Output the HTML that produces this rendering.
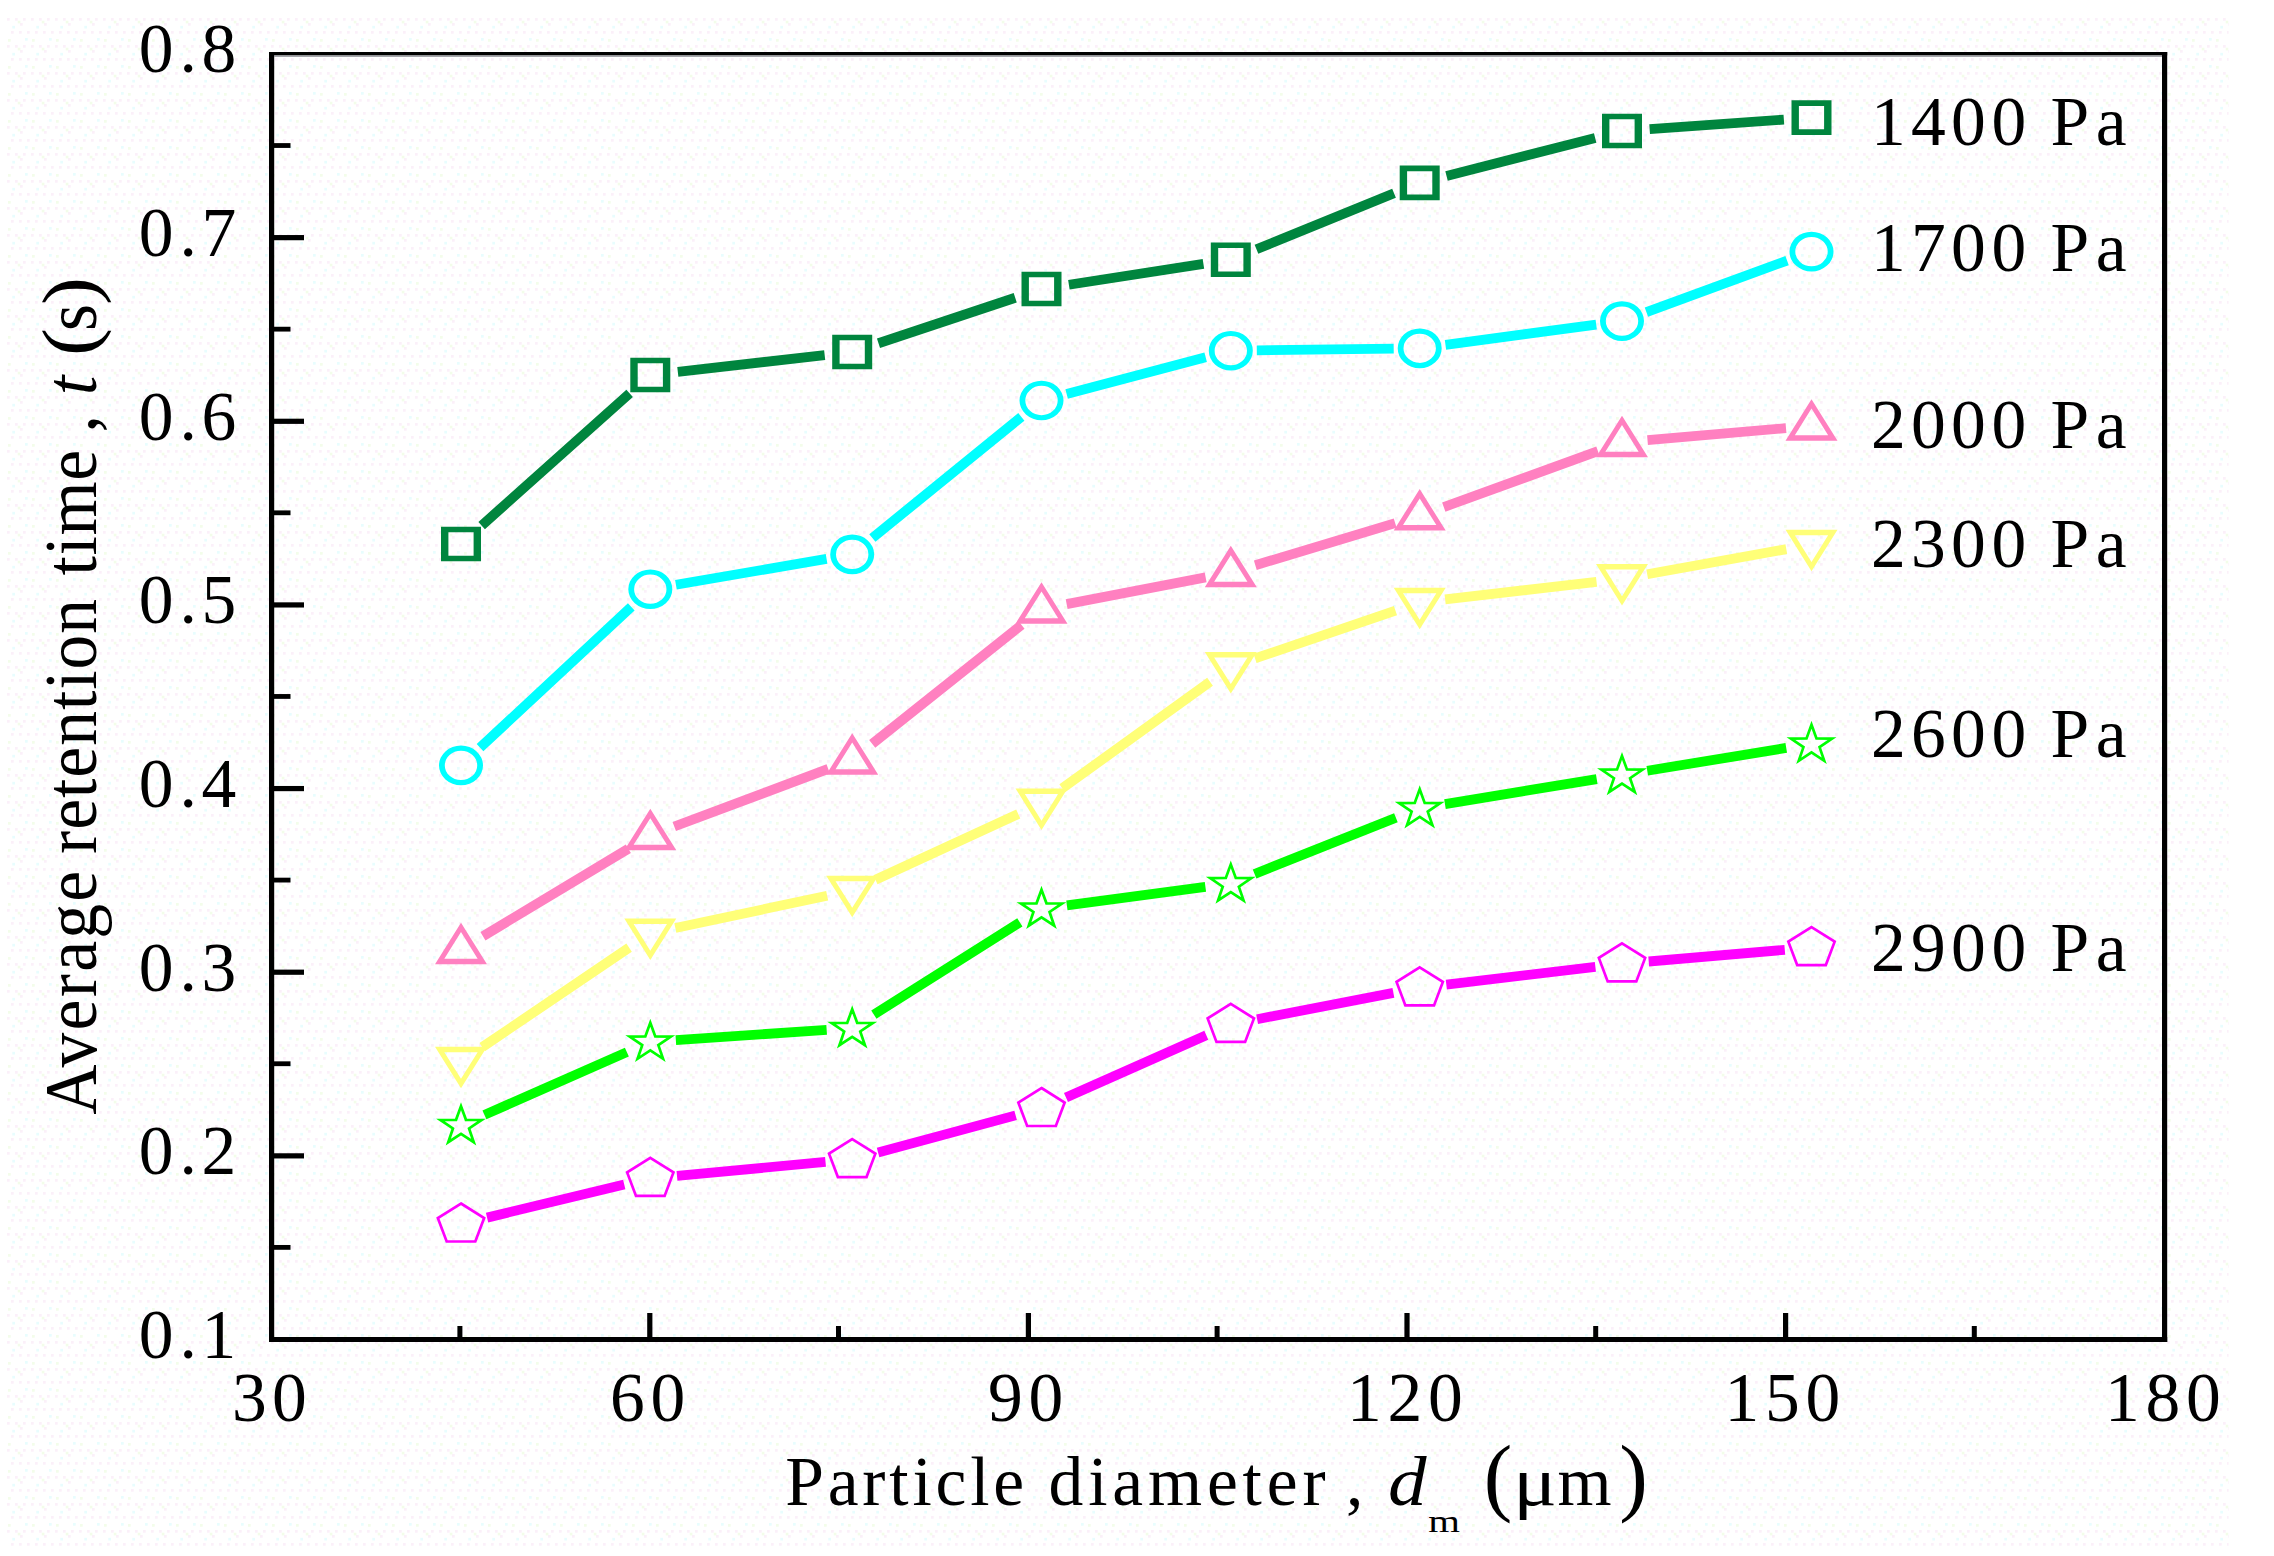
<!DOCTYPE html>
<html lang="en">
<head>
<meta charset="utf-8">
<title>Average retention time vs particle diameter</title>
<style>html,body{margin:0;padding:0;background:#ffffff;}svg{display:block;}</style>
</head>
<body>
<svg width="2274" height="1556" viewBox="0 0 2274 1556" role="img" aria-label="Average retention time versus particle diameter">
<rect x="0" y="0" width="2274" height="1556" fill="#ffffff"/>
<defs><pattern id="dots" x="6" y="17" width="24" height="27" patternUnits="userSpaceOnUse"><g fill="#fbf0f9"><rect x="1" y="1" width="2.7" height="2.7"/><rect x="9" y="1" width="2.7" height="2.7"/><rect x="17" y="1" width="2.7" height="2.7"/><rect x="5" y="14" width="2.7" height="2.7"/><rect x="13" y="14" width="2.7" height="2.7"/><rect x="21" y="14" width="2.7" height="2.7"/><rect x="14" y="6" width="2.7" height="2.7"/></g><g fill="#e8fdfe"><rect x="6.3" y="8.8" width="2.7" height="2.7"/><rect x="19" y="21" width="2.7" height="2.7"/></g><g fill="#f3fdea"><rect x="11.7" y="3.7" width="2.7" height="2.7"/><rect x="2" y="22" width="2.7" height="2.7"/></g></pattern></defs>
<rect x="6" y="17" width="2222.6" height="1532" fill="url(#dots)"/>
<g fill="#000000">
<rect x="269" y="52" width="5.2" height="1290"/>
<rect x="2162" y="52" width="5.2" height="1290"/>
<rect x="269" y="52" width="1898.2" height="3.4"/>
<rect x="269" y="1337" width="1898.2" height="5"/>
<rect x="274" y="55.4" width="1888" height="1.6" fill="#8f8f96" opacity="0.8"/>
<rect x="274" y="235.04" width="30" height="5.2"/>
<rect x="274" y="418.69" width="30" height="5.2"/>
<rect x="274" y="602.33" width="30" height="5.2"/>
<rect x="274" y="785.97" width="30" height="5.2"/>
<rect x="274" y="969.61" width="30" height="5.2"/>
<rect x="274" y="1153.26" width="30" height="5.2"/>
<rect x="274" y="143.12" width="16.5" height="4.8"/>
<rect x="274" y="326.76" width="16.5" height="4.8"/>
<rect x="274" y="510.41" width="16.5" height="4.8"/>
<rect x="274" y="694.05" width="16.5" height="4.8"/>
<rect x="274" y="877.69" width="16.5" height="4.8"/>
<rect x="274" y="1061.34" width="16.5" height="4.8"/>
<rect x="274" y="1244.98" width="16.5" height="4.8"/>
<rect x="647.2" y="1313" width="5.2" height="25"/>
<rect x="1025.8" y="1313" width="5.2" height="25"/>
<rect x="1404.4" y="1313" width="5.2" height="25"/>
<rect x="1783" y="1313" width="5.2" height="25"/>
<rect x="457.4" y="1326" width="5" height="12"/>
<rect x="836" y="1326" width="5" height="12"/>
<rect x="1214.6" y="1326" width="5" height="12"/>
<rect x="1593.2" y="1326" width="5" height="12"/>
<rect x="1971.8" y="1326" width="5" height="12"/>
</g>
<path d="M481.66 525.55L629.64 393.45M677.82 371.86L824.68 355.14M878.48 343.25L1015.22 297.75M1068.87 284.76L1203.43 263.94M1256.46 249.27L1394.04 193.33M1446.53 176.02L1595.17 137.88M1649.63 129.05L1783.87 119.55" fill="none" stroke="#00853e" stroke-width="9.8"/>
<path d="M480.03 747.69L631.27 606.91M675.92 584.78L826.58 558.82M872.37 538L1021.33 416.9M1066.64 393.89L1205.66 357.31M1256.8 350.37L1393.7 348.63M1445.47 344.84L1596.23 324.56M1646.41 312.15L1787.09 260.55" fill="none" stroke="#00ffff" stroke-width="9.8"/>
<path d="M482.94 936.2L628.36 848.7M674.27 826.52L828.23 768.88M872.21 743.94L1021.49 624.86M1066.64 604.08L1205.66 577.42M1255.32 565.23L1395.18 523.17M1443.76 507.07L1597.94 451.13M1647.5 440.18L1786 428.12" fill="none" stroke="#ff80c0" stroke-width="9.8"/>
<path d="M482.2 1047.15L629.1 947.65M675.34 927.98L827.16 895.72M875.46 879.7L1018.24 814M1062.26 788.32L1210.04 681.68M1255.03 658.45L1395.47 610.65M1445.13 599.43L1596.57 581.77M1647.19 574.25L1786.31 549.15" fill="none" stroke="#ffff78" stroke-width="9.8"/>
<path d="M484.43 1114.88L626.87 1052.12M675.84 1040.08L826.66 1029.92M873.85 1014.53L1019.85 922.37M1066.87 905.31L1205.43 886.79M1254.59 873.94L1395.91 817.76M1444.96 804.13L1596.74 779.07M1647.26 770.75L1786.24 747.95" fill="none" stroke="#00ff00" stroke-width="9.8"/>
<path d="M487.05 1217.62L624.25 1184.58M676.98 1175.82L825.52 1161.98M878.07 1152.52L1015.63 1115.38M1065.99 1097.52L1206.31 1035.18M1257.11 1019.22L1393.39 992.88M1446.31 984.64L1595.39 966.96M1648.7 961.5L1784.8 949.8" fill="none" stroke="#ff00ff" stroke-width="9.8"/>
<g>
<path d="M441 526.7L481 526.7L481 561.3L441 561.3ZM448.4 532.3L473.6 532.3L473.6 555.7L448.4 555.7Z" fill="#00853e" fill-rule="evenodd"/>
<path d="M630.3 357.7L670.3 357.7L670.3 392.3L630.3 392.3ZM637.7 363.3L662.9 363.3L662.9 386.7L637.7 386.7Z" fill="#00853e" fill-rule="evenodd"/>
<path d="M832.2 334.7L872.2 334.7L872.2 369.3L832.2 369.3ZM839.6 340.3L864.8 340.3L864.8 363.7L839.6 363.7Z" fill="#00853e" fill-rule="evenodd"/>
<path d="M1021.5 271.7L1061.5 271.7L1061.5 306.3L1021.5 306.3ZM1028.9 277.3L1054.1 277.3L1054.1 300.7L1028.9 300.7Z" fill="#00853e" fill-rule="evenodd"/>
<path d="M1210.8 242.4L1250.8 242.4L1250.8 277L1210.8 277ZM1218.2 248L1243.4 248L1243.4 271.4L1218.2 271.4Z" fill="#00853e" fill-rule="evenodd"/>
<path d="M1399.7 165.6L1439.7 165.6L1439.7 200.2L1399.7 200.2ZM1407.1 171.2L1432.3 171.2L1432.3 194.6L1407.1 194.6Z" fill="#00853e" fill-rule="evenodd"/>
<path d="M1602 113.7L1642 113.7L1642 148.3L1602 148.3ZM1609.4 119.3L1634.6 119.3L1634.6 142.7L1609.4 142.7Z" fill="#00853e" fill-rule="evenodd"/>
<path d="M1791.5 100.3L1831.5 100.3L1831.5 134.9L1791.5 134.9ZM1798.9 105.9L1824.1 105.9L1824.1 129.3L1798.9 129.3Z" fill="#00853e" fill-rule="evenodd"/>
</g>
<g>
<path d="M439 765.4A22 19.8 0 1 0 483 765.4A22 19.8 0 1 0 439 765.4ZM444.8 765.4A16.2 14.6 0 1 0 477.2 765.4A16.2 14.6 0 1 0 444.8 765.4Z" fill="#00ffff" fill-rule="evenodd"/>
<path d="M628.3 589.2A22 19.8 0 1 0 672.3 589.2A22 19.8 0 1 0 628.3 589.2ZM634.1 589.2A16.2 14.6 0 1 0 666.5 589.2A16.2 14.6 0 1 0 634.1 589.2Z" fill="#00ffff" fill-rule="evenodd"/>
<path d="M830.2 554.4A22 19.8 0 1 0 874.2 554.4A22 19.8 0 1 0 830.2 554.4ZM836 554.4A16.2 14.6 0 1 0 868.4 554.4A16.2 14.6 0 1 0 836 554.4Z" fill="#00ffff" fill-rule="evenodd"/>
<path d="M1019.5 400.5A22 19.8 0 1 0 1063.5 400.5A22 19.8 0 1 0 1019.5 400.5ZM1025.3 400.5A16.2 14.6 0 1 0 1057.7 400.5A16.2 14.6 0 1 0 1025.3 400.5Z" fill="#00ffff" fill-rule="evenodd"/>
<path d="M1208.8 350.7A22 19.8 0 1 0 1252.8 350.7A22 19.8 0 1 0 1208.8 350.7ZM1214.6 350.7A16.2 14.6 0 1 0 1247 350.7A16.2 14.6 0 1 0 1214.6 350.7Z" fill="#00ffff" fill-rule="evenodd"/>
<path d="M1397.7 348.3A22 19.8 0 1 0 1441.7 348.3A22 19.8 0 1 0 1397.7 348.3ZM1403.5 348.3A16.2 14.6 0 1 0 1435.9 348.3A16.2 14.6 0 1 0 1403.5 348.3Z" fill="#00ffff" fill-rule="evenodd"/>
<path d="M1600 321.1A22 19.8 0 1 0 1644 321.1A22 19.8 0 1 0 1600 321.1ZM1605.8 321.1A16.2 14.6 0 1 0 1638.2 321.1A16.2 14.6 0 1 0 1605.8 321.1Z" fill="#00ffff" fill-rule="evenodd"/>
<path d="M1789.5 251.6A22 19.8 0 1 0 1833.5 251.6A22 19.8 0 1 0 1789.5 251.6ZM1795.3 251.6A16.2 14.6 0 1 0 1827.7 251.6A16.2 14.6 0 1 0 1795.3 251.6Z" fill="#00ffff" fill-rule="evenodd"/>
</g>
<g>
<path d="M461 922.65L487 964.15L435 964.15ZM461 932.07L477.65 958.65L444.35 958.65Z" fill="#ff80c0" fill-rule="evenodd"/>
<path d="M650.3 808.75L676.3 850.25L624.3 850.25ZM650.3 818.17L666.95 844.75L633.65 844.75Z" fill="#ff80c0" fill-rule="evenodd"/>
<path d="M852.2 733.15L878.2 774.65L826.2 774.65ZM852.2 742.57L868.85 769.15L835.55 769.15Z" fill="#ff80c0" fill-rule="evenodd"/>
<path d="M1041.5 582.15L1067.5 623.65L1015.5 623.65ZM1041.5 591.57L1058.15 618.15L1024.85 618.15Z" fill="#ff80c0" fill-rule="evenodd"/>
<path d="M1230.8 545.85L1256.8 587.35L1204.8 587.35ZM1230.8 555.27L1247.45 581.85L1214.15 581.85Z" fill="#ff80c0" fill-rule="evenodd"/>
<path d="M1419.7 489.05L1445.7 530.55L1393.7 530.55ZM1419.7 498.47L1436.35 525.05L1403.05 525.05Z" fill="#ff80c0" fill-rule="evenodd"/>
<path d="M1622 415.65L1648 457.15L1596 457.15ZM1622 425.07L1638.65 451.65L1605.35 451.65Z" fill="#ff80c0" fill-rule="evenodd"/>
<path d="M1811.5 399.15L1837.5 440.65L1785.5 440.65ZM1811.5 408.57L1828.15 435.15L1794.85 435.15Z" fill="#ff80c0" fill-rule="evenodd"/>
</g>
<g>
<path d="M461 1088.25L487 1046.75L435 1046.75ZM461 1078.83L477.65 1052.25L444.35 1052.25Z" fill="#ffff78" fill-rule="evenodd"/>
<path d="M650.3 960.05L676.3 918.55L624.3 918.55ZM650.3 950.63L666.95 924.05L633.65 924.05Z" fill="#ffff78" fill-rule="evenodd"/>
<path d="M852.2 917.15L878.2 875.65L826.2 875.65ZM852.2 907.73L868.85 881.15L835.55 881.15Z" fill="#ffff78" fill-rule="evenodd"/>
<path d="M1041.5 830.05L1067.5 788.55L1015.5 788.55ZM1041.5 820.63L1058.15 794.05L1024.85 794.05Z" fill="#ffff78" fill-rule="evenodd"/>
<path d="M1230.8 693.45L1256.8 651.95L1204.8 651.95ZM1230.8 684.03L1247.45 657.45L1214.15 657.45Z" fill="#ffff78" fill-rule="evenodd"/>
<path d="M1419.7 629.15L1445.7 587.65L1393.7 587.65ZM1419.7 619.73L1436.35 593.15L1403.05 593.15Z" fill="#ffff78" fill-rule="evenodd"/>
<path d="M1622 605.55L1648 564.05L1596 564.05ZM1622 596.13L1638.65 569.55L1605.35 569.55Z" fill="#ffff78" fill-rule="evenodd"/>
<path d="M1811.5 571.35L1837.5 529.85L1785.5 529.85ZM1811.5 561.93L1828.15 535.35L1794.85 535.35Z" fill="#ffff78" fill-rule="evenodd"/>
</g>
<g>
<path d="M461 1106.2L465.97 1119.82L481.63 1119.95L469.05 1128.5L473.75 1142.2L461 1133.86L448.25 1142.2L452.95 1128.5L440.37 1119.95L456.03 1119.82Z" fill="none" stroke="#00ff00" stroke-width="2.7" stroke-linejoin="miter"/>
<path d="M650.3 1022.8L655.27 1036.42L670.93 1036.55L658.35 1045.1L663.05 1058.8L650.3 1050.46L637.55 1058.8L642.25 1045.1L629.67 1036.55L645.33 1036.42Z" fill="none" stroke="#00ff00" stroke-width="2.7" stroke-linejoin="miter"/>
<path d="M852.2 1009.2L857.17 1022.82L872.83 1022.95L860.25 1031.5L864.95 1045.2L852.2 1036.86L839.45 1045.2L844.15 1031.5L831.57 1022.95L847.23 1022.82Z" fill="none" stroke="#00ff00" stroke-width="2.7" stroke-linejoin="miter"/>
<path d="M1041.5 889.7L1046.47 903.32L1062.13 903.45L1049.55 912L1054.25 925.7L1041.5 917.36L1028.75 925.7L1033.45 912L1020.87 903.45L1036.53 903.32Z" fill="none" stroke="#00ff00" stroke-width="2.7" stroke-linejoin="miter"/>
<path d="M1230.8 864.4L1235.77 878.02L1251.43 878.15L1238.85 886.7L1243.55 900.4L1230.8 892.06L1218.05 900.4L1222.75 886.7L1210.17 878.15L1225.83 878.02Z" fill="none" stroke="#00ff00" stroke-width="2.7" stroke-linejoin="miter"/>
<path d="M1419.7 789.3L1424.67 802.92L1440.33 803.05L1427.75 811.6L1432.45 825.3L1419.7 816.96L1406.95 825.3L1411.65 811.6L1399.07 803.05L1414.73 802.92Z" fill="none" stroke="#00ff00" stroke-width="2.7" stroke-linejoin="miter"/>
<path d="M1622 755.9L1626.97 769.52L1642.63 769.65L1630.05 778.2L1634.75 791.9L1622 783.56L1609.25 791.9L1613.95 778.2L1601.37 769.65L1617.03 769.52Z" fill="none" stroke="#00ff00" stroke-width="2.7" stroke-linejoin="miter"/>
<path d="M1811.5 724.8L1816.47 738.42L1832.13 738.55L1819.55 747.1L1824.25 760.8L1811.5 752.46L1798.75 760.8L1803.45 747.1L1790.87 738.55L1806.53 738.42Z" fill="none" stroke="#00ff00" stroke-width="2.7" stroke-linejoin="miter"/>
</g>
<g>
<path d="M461 1203.5L484.17 1218.01L475.32 1241.49L446.68 1241.49L437.83 1218.01Z" fill="none" stroke="#ff00ff" stroke-width="2.7" stroke-linejoin="miter"/>
<path d="M650.3 1157.9L673.47 1172.41L664.62 1195.89L635.98 1195.89L627.13 1172.41Z" fill="none" stroke="#ff00ff" stroke-width="2.7" stroke-linejoin="miter"/>
<path d="M852.2 1139.1L875.37 1153.61L866.52 1177.09L837.88 1177.09L829.03 1153.61Z" fill="none" stroke="#ff00ff" stroke-width="2.7" stroke-linejoin="miter"/>
<path d="M1041.5 1088L1064.67 1102.51L1055.82 1125.99L1027.18 1125.99L1018.33 1102.51Z" fill="none" stroke="#ff00ff" stroke-width="2.7" stroke-linejoin="miter"/>
<path d="M1230.8 1003.9L1253.97 1018.41L1245.12 1041.89L1216.48 1041.89L1207.63 1018.41Z" fill="none" stroke="#ff00ff" stroke-width="2.7" stroke-linejoin="miter"/>
<path d="M1419.7 967.4L1442.87 981.91L1434.02 1005.39L1405.38 1005.39L1396.53 981.91Z" fill="none" stroke="#ff00ff" stroke-width="2.7" stroke-linejoin="miter"/>
<path d="M1622 943.4L1645.17 957.91L1636.32 981.39L1607.68 981.39L1598.83 957.91Z" fill="none" stroke="#ff00ff" stroke-width="2.7" stroke-linejoin="miter"/>
<path d="M1811.5 927.1L1834.67 941.61L1825.82 965.09L1797.18 965.09L1788.33 941.61Z" fill="none" stroke="#ff00ff" stroke-width="2.7" stroke-linejoin="miter"/>
</g>
<g font-family='"Liberation Serif", "Times New Roman", serif' font-size="69.5" fill="#000000">
<text x="138.8 179.4 201.6" y="72.3">0.8</text>
<text x="138.8 179.4 201.6" y="255.94">0.7</text>
<text x="138.8 179.4 201.6" y="439.59">0.6</text>
<text x="138.8 179.4 201.6" y="623.23">0.5</text>
<text x="138.8 179.4 201.6" y="806.87">0.4</text>
<text x="138.8 179.4 201.6" y="990.51">0.3</text>
<text x="138.8 179.4 201.6" y="1174.16">0.2</text>
<text x="138.8 179.4 201.6" y="1357.8">0.1</text>
<text x="232 272" y="1421.2">30</text>
<text x="610 650.5" y="1421.2">60</text>
<text x="988 1028.5" y="1421.2">90</text>
<text x="1347 1387.5 1428" y="1421.2">120</text>
<text x="1724.5 1765 1805.5" y="1421.2">150</text>
<text x="2105 2145.5 2186" y="1421.2">180</text>
<text x="1870.9 1911.1 1951 1991.4 2031 2050.6 2095.7" y="145.4">1400 Pa</text>
<text x="1870.9 1911.1 1951 1991.4 2031 2050.6 2095.7" y="271.3">1700 Pa</text>
<text x="1870.9 1911.1 1951 1991.4 2031 2050.6 2095.7" y="448.4">2000 Pa</text>
<text x="1870.9 1911.1 1951 1991.4 2031 2050.6 2095.7" y="566.5">2300 Pa</text>
<text x="1870.9 1911.1 1951 1991.4 2031 2050.6 2095.7" y="756.7">2600 Pa</text>
<text x="1870.9 1911.1 1951 1991.4 2031 2050.6 2095.7" y="971.3">2900 Pa</text>
<text x="785.2" y="1504.8" textLength="239" lengthAdjust="spacing">Particle</text>
<text x="1048.6" y="1504.8" textLength="277" lengthAdjust="spacing">diameter</text>
<text x="1346" y="1504.8">,</text>
<text transform="translate(1387.9 1504.8) scale(1.11 1)" font-style="italic">d</text>
<text transform="translate(1428.3 1531.7) scale(1 0.76)" font-size="40.8">m</text>
<text x="1483.8" y="1504.7" font-size="85.7">(</text>
<text transform="translate(1513.2 1504.8) scale(1.17 1)">μ</text>
<text x="1557.4" y="1504.8">m</text>
<text x="1619.3" y="1504.7" font-size="85.7">)</text>
<g transform="translate(96.4 0) rotate(-90) scale(1 1.07)">
<text x="-1114.8" y="0" textLength="244" lengthAdjust="spacing">Average</text>
<text x="-854" y="0" textLength="255" lengthAdjust="spacing">retention</text>
<text x="-575.4" y="0" textLength="125.6" lengthAdjust="spacing">time</text>
<text x="-432.5" y="0">,</text>
<text x="-395" y="0" font-style="italic">t</text>
<text transform="translate(-356 -1.3) scale(1 0.844)" font-size="83.7">(</text>
<text x="-331" y="0">s</text>
<text transform="translate(-305 -1.3) scale(1 0.844)" font-size="83.7">)</text>
</g>
</g>
</svg>
</body>
</html>
